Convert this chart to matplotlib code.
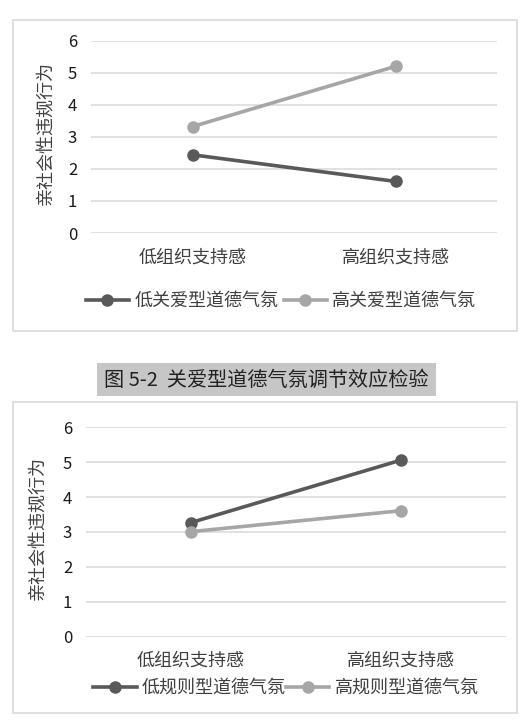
import matplotlib
matplotlib.use("Agg")
import matplotlib.pyplot as plt
from matplotlib.patches import Rectangle

plt.rcParams['font.family'] = ['Noto Sans CJK SC', 'DejaVu Sans']

# 数据
categories = ["低组织支持感", "高组织支持感"]
y_ticks = [0, 1, 2, 3, 4, 5, 6]
y_label = "亲社会性违规行为"

care_names = ["低关爱型道德气氛", "高关爱型道德气氛"]
care_low = [2.44, 1.61]
care_high = [3.32, 5.20]

rule_names = ["低规则型道德气氛", "高规则型道德气氛"]
rule_low = [3.27, 5.06]
rule_high = [3.01, 3.61]

caption = "图 5-2  关爱型道德气氛调节效应检验"

W, H = 525, 720
dark = '#595959'
light = '#a6a6a6'
grid = '#d9d9d9'

fig = plt.figure(figsize=(W / 100, H / 100), dpi=100)
fig.patch.set_facecolor('white')


def px_box(x0, y0, x1, y1):
    # 像素坐标 -> figure 坐标
    return [x0 / W, 1 - y1 / H, (x1 - x0) / W, (y1 - y0) / H]


def draw_panel(box, axbox, ylab_xy, leg_xy, s1, s2, names, colsp):
    fig.patches.append(Rectangle((box[0], box[1]), box[2], box[3], transform=fig.transFigure,
                                 facecolor='none', edgecolor=grid, linewidth=1.2, zorder=-1))
    ax = fig.add_axes(axbox)
    xs = list(range(len(categories)))
    ax.plot(xs, s1, color=dark, linewidth=2.6, marker='o', markersize=8, label=names[0], zorder=3)
    ax.plot(xs, s2, color=light, linewidth=2.6, marker='o', markersize=8, label=names[1], zorder=3)
    ax.set_xlim(-0.5, 1.5)
    ax.set_ylim(0, 6)
    ax.set_yticks(y_ticks)
    ax.set_xticks(xs)
    ax.set_xticklabels(categories, fontsize=13, color='#404040')
    ax.tick_params(axis='y', length=0, pad=10, labelsize=12, labelcolor='#1a1a1a')
    ax.tick_params(axis='x', length=0, pad=11)
    ax.grid(axis='y', color=grid, linewidth=1.1)
    ax.set_axisbelow(True)
    for sp in ax.spines.values():
        sp.set_visible(False)
    ax.patch.set_alpha(0)
    fig.text(ylab_xy[0] / W, 1 - ylab_xy[1] / H, y_label, rotation=90, ha='center', va='center',
             fontsize=13, color='#404040')
    fig.legend(handles=ax.get_lines(), loc='center', bbox_to_anchor=(leg_xy[0] / W, 1 - leg_xy[1] / H),
               ncol=2, frameon=False, fontsize=13, handlelength=2.4, handletextpad=0.3,
               columnspacing=colsp, labelcolor='#404040')
    return ax


# 上图
draw_panel(px_box(13, 20, 517, 331), px_box(91, 40.7, 497, 233), (45, 133), (281, 301),
           care_low, care_high, care_names, 0.3)

# 图题
fig.patches.append(Rectangle((97 / W, 1 - 396 / H), (436 - 97) / W, (396 - 363) / H,
                             transform=fig.transFigure, facecolor='#c6c6c6', edgecolor='none'))
fig.text(266 / W, 1 - 380 / H, caption, ha='center', va='center', fontsize=14.5, color='#222222')

# 下图
draw_panel(px_box(13, 402, 517, 713), px_box(86, 427.3, 506, 636.7), (37, 528), (286, 688),
           rule_low, rule_high, rule_names, 0.0)

fig.savefig("out.png", dpi=100, facecolor='white')
